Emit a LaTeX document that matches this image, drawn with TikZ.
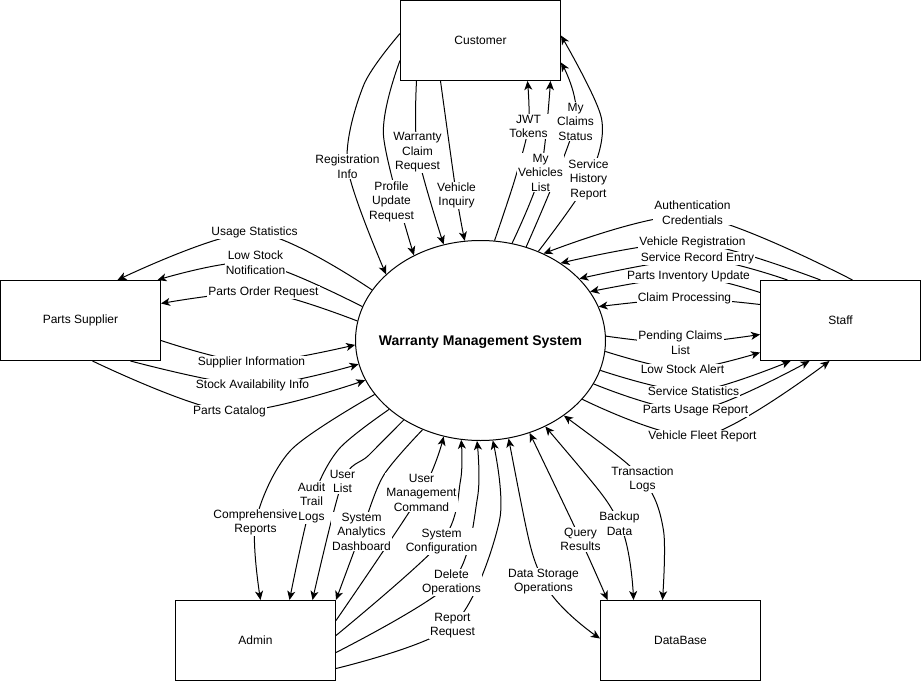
\documentclass[tikz,border=0pt]{standalone}
\usepackage{fontspec}
\setmainfont{Liberation Sans}
\usetikzlibrary{arrows.meta,shapes.geometric}
\begin{document}
\begin{tikzpicture}[x=1pt,y=-1pt,line width=1pt,
box/.style={draw,rectangle,minimum width=160pt,minimum height=80pt,font=\fontsize{12}{14}\selectfont},
lbl/.style={fill=white,inner sep=1pt,align=center,font=\fontsize{12}{14.5}\selectfont},
arr/.style={-{Stealth[length=9pt,width=8pt,inset=2.5pt]}},
arrs/.style={{Stealth[length=9pt,width=8pt,inset=2.5pt]}-{Stealth[length=9pt,width=8pt,inset=2.5pt]}}]
\useasboundingbox (-0.5,-0.5) rectangle (920.5,681.5);
\node[box](cust) at (480,40){Customer};
\node[box](supp) at (80,320){Parts Supplier};
\node[box](staff) at (840,320){Staff};
\node[box](admin) at (255,640){Admin};
\node[box](db) at (680,640){DataBase};
\node[draw,ellipse,minimum width=250pt,minimum height=200pt](wms) at (480,340){};
\node[font=\bfseries\fontsize{14}{16}\selectfont](wmst) at ([yshift=-2pt]wms.center){Warranty Management System};
% customer
\draw[arr] plot[smooth] coordinates{([yshift=7pt]cust.west)(363,85)(347,166)(wms.145)};
\draw[arr] plot[smooth] coordinates{([yshift=-20pt]cust.west)(383,135)(wms.128)};
\draw[arr] plot[smooth] coordinates{([xshift=-64pt]cust.south)(417,152)(wms.111)};
\draw[arr] plot[smooth] coordinates{([xshift=-40pt]cust.south)(456,195)(wms.99)};
\draw[arr] plot[smooth] coordinates{(wms.82.5)(514,180)(528,126)([xshift=47pt]cust.south)};
\draw[arr] plot[smooth] coordinates{(wms.72.6)(540,172)([xshift=70pt]cust.south)};
\draw[arr] plot[smooth] coordinates{(wms.64.4)(575,121)([yshift=-22pt]cust.east)};
\draw[arr] plot[smooth] coordinates{(wms.57.7)(588,179)(601,118)([yshift=5pt]cust.east)};
\node[lbl](regi) at (347,166){Registration\\Info};
\node[lbl](prof) at (391,201){Profile\\Update\\Request};
\node[lbl](wcr) at (417,152){Warranty\\Claim\\Request};
\node[lbl](vinq) at (456,195){Vehicle\\Inquiry};
\node[lbl](jwt) at (528,126){JWT\\Tokens};
\node[lbl](myveh) at (540,172){My\\Vehicles\\List};
\node[lbl](mycl) at (575,121){My\\Claims\\Status};
\node[lbl](shr) at (588,179){Service\\History\\Report};
% staff
\draw[arr] plot[smooth] coordinates{([xshift=12pt]staff.north)(692,215)(wms.54.4)};
\draw[arr] plot[smooth] coordinates{([xshift=-20pt]staff.north)(692,242)(wms.44.3)};
\draw[arr] plot[smooth] coordinates{([xshift=-53pt]staff.north)(697,258)(wms.32.7)};
\draw[arr] plot[smooth] coordinates{([yshift=28pt]staff.west)(688,276)(wms.24.5)};
\draw[arr] plot[smooth] coordinates{([yshift=16pt]staff.west)(684,298)(wms.16.3)};
\draw[arr] plot[smooth] coordinates{(wms.2.3)(680,343)([yshift=-14pt]staff.west)};
\draw[arr] plot[smooth] coordinates{(wms.-5.9)(682,369)([yshift=-32pt]staff.west)};
\draw[arr] plot[smooth] coordinates{(wms.-14)(693,391)([xshift=-50pt]staff.south)};
\draw[arr] plot[smooth] coordinates{(wms.-21.7)(695,410)([xshift=-31pt]staff.south)};
\draw[arr] plot[smooth] coordinates{(wms.-30.2)(702,436)([xshift=-11pt]staff.south)};
\node[lbl](auth) at (692,212){Authentication\\Credentials};
\node[lbl](vreg) at (692,242){Vehicle Registration};
\node[lbl](sre) at (697,258){Service Record Entry};
\node[lbl](piu) at (688,276){Parts Inventory Update};
\node[lbl](cproc) at (684,298){Claim Processing};
\node[lbl](pcl) at (680,342){Pending Claims\\List};
\node[lbl](lsa) at (682,369){Low Stock Alert};
\node[lbl](sstat) at (693,391){Service Statistics};
\node[lbl](pur) at (695,410){Parts Usage Report};
\node[lbl](vfr) at (702,436){Vehicle Fleet Report};
% parts supplier
\draw[arr] plot[smooth] coordinates{(wms.155.6)(254,232)([xshift=37pt]supp.north)};
\draw[arr] plot[smooth] coordinates{(wms.164.4)(255,262)([xshift=77pt]supp.north)};
\draw[arr] plot[smooth] coordinates{(wms.171.7)(263,292)([yshift=17pt]supp.east)};
\draw[arr] plot[smooth] coordinates{([yshift=-20pt]supp.east)(251,362)(wms.182.3)};
\draw[arr] plot[smooth] coordinates{([xshift=50pt]supp.south)(252,385)(wms.191.4)};
\draw[arr] plot[smooth] coordinates{([xshift=12pt]supp.south)(229,411)(wms.199.7)};
\node[lbl](ustat) at (254,232){Usage Statistics};
\node[lbl](lsn) at (255,262){Low Stock\\Notification};
\node[lbl](por) at (263,292){Parts Order Request};
\node[lbl](sinf) at (251,362){Supplier Information};
\node[lbl](sai) at (252,385){Stock Availability Info};
\node[lbl](pcat) at (229,411){Parts Catalog};
% admin
\draw[arr] plot[smooth] coordinates{(wms.207.2)(290,450)(255,522)([xshift=5pt]admin.north)};
\draw[arr] plot[smooth] coordinates{(wms.217.3)(338,449)(311,502)([xshift=34pt]admin.north)};
\draw[arr] plot[smooth] coordinates{(wms.226.8)(368,455)(342,481)([xshift=57pt]admin.north)};
\draw[arr] plot[smooth] coordinates{(wms.237.8)(383,475)(361,531)(admin.north east)};
\draw[arr] plot[smooth] coordinates{([yshift=20pt]admin.east)(421,492)(wms.249.5)};
\draw[arr] plot[smooth] coordinates{([yshift=5pt]admin.east)(441,541)(460,480)(wms.259)};
\draw[arr] plot[smooth] coordinates{([yshift=-12pt]admin.east)(451,582)(477,497)(wms.268)};
\draw[arr] plot[smooth] coordinates{([yshift=-28pt]admin.east)(452,625)(499,520)(wms.277.4)};
\node[lbl](crep) at (255,522){Comprehensive\\Reports};
\node[lbl](atl) at (311,502){Audit\\Trail\\Logs};
\node[lbl](ulist) at (342,481){User\\List};
\node[lbl](sad) at (361,531){System\\Analytics\\Dashboard};
\node[lbl](umc) at (421,492){User\\Management\\Command};
\node[lbl](sconf) at (441,541){System\\Configuration};
\node[lbl](delop) at (451,582){Delete\\Operations};
\node[lbl](rreq) at (452,625){Report\\Request};
% database
\draw[arrs] plot[smooth] coordinates{(wms.286.7)(543,581)([yshift=2pt]db.west)};
\draw[arrs] plot[smooth] coordinates{(wms.298.5)(580,539)([xshift=-73pt]db.north)};
\draw[arrs] plot[smooth] coordinates{(wms.307.4)(619,523)([xshift=-47pt]db.north)};
\draw[arrs] plot[smooth] coordinates{(wms.318)(642,479)(663,530)([xshift=-18pt]db.north)};
\node[lbl](dso) at (543,581){Data Storage\\Operations};
\node[lbl](qres) at (580,539){Query\\Results};
\node[lbl](bdat) at (619,523){Backup\\Data};
\node[lbl](txl) at (642,479){Transaction\\Logs};
\end{tikzpicture}
\end{document}
